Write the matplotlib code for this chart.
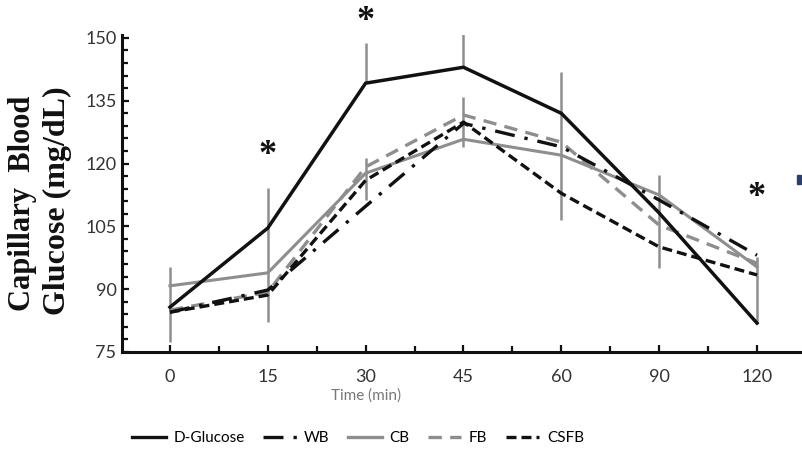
import matplotlib
matplotlib.use("Agg")
import matplotlib.pyplot as plt
from matplotlib.ticker import MultipleLocator, FixedLocator
from matplotlib.lines import Line2D
from matplotlib.patches import Rectangle

time_labels = ["0", "15", "30", "45", "60", "90", "120"]
d_glucose = [85.7, 104.6, 139.2, 143.0, 132.0, 108.2, 81.9]
wb = [84.5, 89.8, 109.8, 129.6, 124.0, 111.3, 98.1]
cb = [90.8, 93.9, 117.7, 125.8, 122.0, 112.5, 95.3]
fb = [85.0, 89.3, 119.2, 131.6, 125.1, 105.3, 96.2]
csfb = [84.5, 88.6, 116.0, 129.9, 112.9, 100.1, 93.4]

# error bar segments: (time index, low, high)
err_segments = [(0, 77.4, 95.3), (1, 82.2, 114.1), (2, 139.2, 148.7), (2, 111.3, 121.3),
                (3, 143.0, 152.6), (3, 123.9, 135.9), (4, 106.5, 141.8),
                (5, 95.0, 117.2), (6, 82.2, 97.7)]
sig_idx = [1, 2, 6]
sig_y = [122.0, 154.0, 112.0]

BLACK = "#111111"
GRAY = "#8e8e8e"
TICKC = "#333333"

fig = plt.figure(figsize=(8.02, 4.5), dpi=100)
ax = fig.add_axes([122/802, 1-352/450, 1-122/802, 317/450])
x = list(range(len(time_labels)))

for i, lo, hi in err_segments:
    ax.plot([i, i], [lo, hi], color=GRAY, lw=1.8, zorder=1, solid_capstyle="butt")

ax.plot(x, cb, color=GRAY, lw=2.2, zorder=2)
ax.plot(x, fb, color=GRAY, lw=2.4, ls=(0, (4, 2.5)), zorder=2)
ax.plot(x, csfb, color=BLACK, lw=2.4, ls=(0, (3, 1.5)), zorder=3)
ax.plot(x, wb, color=BLACK, lw=2.4, ls=(0, (6, 3, 1, 3)), zorder=3)
ax.plot(x, d_glucose, color=BLACK, lw=2.5, zorder=4)

for i, yv in zip(sig_idx, sig_y):
    ax.text(i, yv, "*", ha="center", va="center", fontsize=26, weight="bold",
            family="Liberation Serif", color=BLACK, clip_on=False)

ax.set_xlim(-0.49, 6.46)
ax.set_ylim(75, 150.7)
ax.set_xticks(x)
ax.set_xticklabels(time_labels)
ax.xaxis.set_minor_locator(FixedLocator([v + 0.5 for v in x[:-1]]))
ax.yaxis.set_major_locator(MultipleLocator(15))
ax.yaxis.set_minor_locator(MultipleLocator(3))
for s in ["top", "right"]:
    ax.spines[s].set_visible(False)
for s in ["left", "bottom"]:
    ax.spines[s].set_linewidth(2.2)
    ax.spines[s].set_color(BLACK)
ax.tick_params(which="both", direction="in", color=BLACK, width=1.6)
ax.tick_params(which="major", length=5)
ax.tick_params(which="minor", length=4)
ax.tick_params(axis="x", which="major", pad=12)
ax.tick_params(axis="y", which="major", pad=4)
for lab in ax.get_xticklabels() + ax.get_yticklabels():
    lab.set_family("Lato")
    lab.set_fontsize(13)
    lab.set_color(TICKC)

fig.text(366/802, 1-396/450, "Time (min)", ha="center", va="center",
         fontsize=11, family="Lato", color="#777777")

fig.text(23/802, 1-203/450, "Capillary  Blood", rotation=90, ha="center", va="center",
         fontsize=22, family="Liberation Serif", weight="bold", color=BLACK)
fig.text(57/802, 1-201/450, "Glucose (mg/dL)", rotation=90, ha="center", va="center",
         fontsize=23, family="Liberation Serif", weight="bold", color=BLACK)

handles = [
    Line2D([], [], color=BLACK, lw=2.4),
    Line2D([], [], color=BLACK, lw=2.4, ls=(0, (6, 3, 1, 3))),
    Line2D([], [], color=GRAY, lw=2.4),
    Line2D([], [], color=GRAY, lw=2.4, ls=(0, (4, 2.5))),
    Line2D([], [], color=BLACK, lw=2.4, ls=(0, (3, 1.5))),
]
labels = ["D-Glucose", "WB", "CB", "FB", "CSFB"]
leg = fig.legend(handles, labels, loc="center", bbox_to_anchor=(358/802, 1-438/450),
                 ncol=5, frameon=False, handlelength=2.2, handletextpad=0.5,
                 columnspacing=1.2, prop={"family": "Lato", "size": 11})

fig.patches.append(Rectangle((797/802, 1-184/450), 4/802, 9/450, transform=fig.transFigure,
                             color="#2a3f6e", zorder=5))

fig.savefig("out.png", dpi=100)
